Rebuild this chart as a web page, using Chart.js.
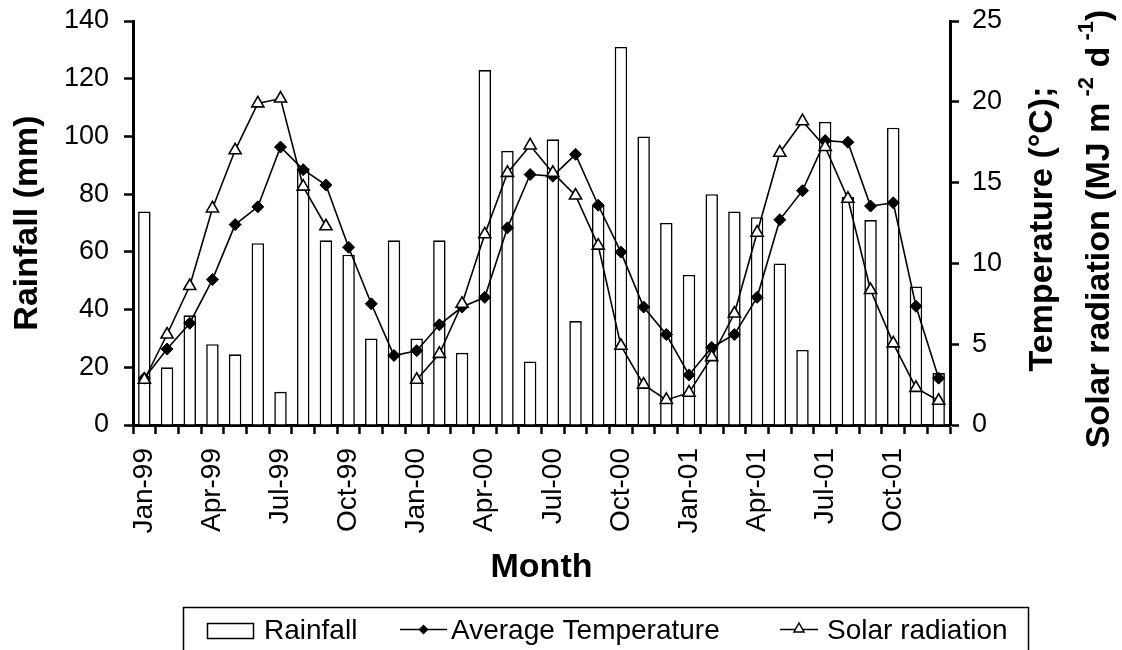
<!DOCTYPE html>
<html>
<head>
<meta charset="utf-8">
<script src="https://cdn.jsdelivr.net/npm/chart.js@4.4.0/dist/chart.umd.min.js"></script>
<style>
  html, body { margin: 0; padding: 0; background: #fff; }
  #wrap { width: 1122px; height: 650px; }
</style>
</head>
<body>
<div id="wrap"><canvas id="climateChart" width="1122" height="650"></canvas></div>
<script>
// monthly data Jan-99 .. Dec-01
const months = [
  'Jan-99', 'Feb-99', 'Mar-99', 'Apr-99', 'May-99', 'Jun-99', 'Jul-99', 'Aug-99', 'Sep-99', 'Oct-99', 'Nov-99', 'Dec-99',
  'Jan-00', 'Feb-00', 'Mar-00', 'Apr-00', 'May-00', 'Jun-00', 'Jul-00', 'Aug-00', 'Sep-00', 'Oct-00', 'Nov-00', 'Dec-00',
  'Jan-01', 'Feb-01', 'Mar-01', 'Apr-01', 'May-01', 'Jun-01', 'Jul-01', 'Aug-01', 'Sep-01', 'Oct-01', 'Nov-01', 'Dec-01'
];
const rainfall = [
  74, 20, 38, 28, 24.5, 63, 11.5, 89, 64, 59, 30, 64,
  30, 64, 25, 123, 95, 22, 99, 36, 76, 131, 100, 70,
  52, 80, 74, 72, 56, 26, 105, 79, 71, 103, 48, 18
];
const avgTemperature = [
  2.9, 4.7, 6.3, 9.0, 12.4, 13.5, 17.2, 15.8, 14.85, 11.0, 7.5, 4.3,
  4.6, 6.2, 7.3, 7.9, 12.2, 15.5, 15.4, 16.75, 13.6, 10.7, 7.3, 5.6,
  3.1, 4.8, 5.6, 7.9, 12.7, 14.5, 17.6, 17.5, 13.55, 13.75, 7.35, 2.9
];
const solarRadiation = [
  2.8, 5.6, 8.6, 13.4, 17.0, 19.9, 20.2, 14.75, 12.3, null, null, null,
  2.8, 4.4, 7.5, 11.8, 15.6, 17.3, 15.6, 14.2, 11.1, 4.9, 2.5, 1.55,
  2.0, 4.2, 6.9, 11.9, 16.85, 18.8, 17.2, 14.0, 8.35, 5.05, 2.3, 1.5
];
const rainTicks = { min: 0, max: 140, step: 20 };
const tempTicks = { min: 0, max: 25, step: 5 };

const FONT = '"Liberation Sans", Arial, sans-serif';

// right axis title, read bottom to top, with superscripts
const rightTitlePlugin = {
  id: 'rightTitle',
  afterDraw(chart) {
    const ctx = chart.ctx;
    const big = 'bold 34px ' + FONT;
    const small = 'bold 22px ' + FONT;
    const lines = [
      { x: 1043, parts: [['Temperature (°C);', false]] },
      { x: 1100, parts: [['Solar radiation (MJ m', false], [' -2', true], [' d', false], [' -1', true], [')', false]] }
    ];
    ctx.save();
    ctx.fillStyle = '#000';
    ctx.textBaseline = 'middle';
    ctx.textAlign = 'left';
    lines.forEach(line => {
      let total = 0;
      line.parts.forEach(p => { ctx.font = p[1] ? small : big; total += ctx.measureText(p[0]).width; });
      ctx.save();
      ctx.translate(line.x, 229);
      ctx.rotate(-Math.PI / 2);
      let cx = -total / 2;
      line.parts.forEach(p => {
        ctx.font = p[1] ? small : big;
        ctx.fillText(p[0], cx, p[1] ? -13 : 0);
        cx += ctx.measureText(p[0]).width;
      });
      ctx.restore();
    });
    ctx.restore();
  }
};

// boxed legend under the axis title
const boxLegendPlugin = {
  id: 'boxLegend',
  afterDraw(chart) {
    const ctx = chart.ctx;
    const ds = chart.data.datasets;
    ctx.save();
    ctx.strokeStyle = '#000';
    ctx.lineWidth = 1.5;
    ctx.strokeRect(183.5, 607.5, 845, 60);

    ctx.font = '28px ' + FONT;
    ctx.fillStyle = '#000';
    ctx.textBaseline = 'alphabetic';
    ctx.textAlign = 'left';

    // Rainfall
    ctx.fillStyle = '#fff';
    ctx.fillRect(207.5, 623.5, 46, 15);
    ctx.strokeRect(207.5, 623.5, 46, 15);
    ctx.fillStyle = '#000';
    ctx.fillText(ds[0].label, 264, 639);

    // Average Temperature
    ctx.lineWidth = 1.5;
    ctx.beginPath(); ctx.moveTo(400, 629.5); ctx.lineTo(447, 629.5); ctx.stroke();
    ctx.beginPath();
    ctx.moveTo(423.5 - 5, 629.5); ctx.lineTo(423.5, 624.5); ctx.lineTo(423.5 + 5, 629.5); ctx.lineTo(423.5, 634.5);
    ctx.closePath(); ctx.fill();
    ctx.fillText(ds[1].label, 451, 639);

    // Solar radiation
    ctx.beginPath(); ctx.moveTo(780, 629.5); ctx.lineTo(818, 629.5); ctx.stroke();
    ctx.beginPath();
    ctx.moveTo(799, 623); ctx.lineTo(804, 632); ctx.lineTo(794, 632); ctx.closePath();
    ctx.fillStyle = '#fff'; ctx.fill(); ctx.stroke();
    ctx.fillStyle = '#000';
    ctx.fillText(ds[2].label, 827, 639);
    ctx.restore();
  }
};

// fixed widths, and no extra label padding above/below the plot
const fitY = w => s => { s.width = w; s.paddingTop = 0; s.paddingBottom = 0; };

const ctx = document.getElementById('climateChart').getContext('2d');
new Chart(ctx, {
  type: 'bar',
  data: {
    labels: months,
    datasets: [
      {
        type: 'bar', label: 'Rainfall', data: rainfall, yAxisID: 'y', order: 3,
        backgroundColor: '#fff', borderColor: '#000', borderWidth: 1.6,
        categoryPercentage: 1, barPercentage: 0.55
      },
      {
        type: 'line', label: 'Average Temperature', data: avgTemperature, yAxisID: 'y1', order: 2,
        borderColor: '#000', borderWidth: 1.6, backgroundColor: '#000',
        pointStyle: 'rectRot', pointRadius: 6, pointBorderWidth: 1, tension: 0
      },
      {
        type: 'line', label: 'Solar radiation', data: solarRadiation, yAxisID: 'y1', order: 1,
        borderColor: '#000', borderWidth: 1.6, backgroundColor: '#fff',
        pointStyle: 'triangle', pointRadius: 7, pointBorderWidth: 1.6, tension: 0, spanGaps: false
      }
    ]
  },
  options: {
    responsive: false,
    animation: false,
    devicePixelRatio: 1,
    layout: { padding: { top: 21, left: 0, right: 0, bottom: 60 } },
    plugins: { legend: { display: false }, tooltip: { enabled: false } },
    scales: {
      x: {
        afterFit: s => { s.height = 165; },
        grid: { offset: true, drawOnChartArea: false, drawTicks: true, tickLength: 9, tickColor: '#000', tickWidth: 2.5 },
        border: { color: '#000', width: 3 },
        ticks: {
          autoSkip: false, minRotation: 90, maxRotation: 90, padding: 14, color: '#000',
          font: { family: FONT, size: 28 },
          callback: (v, i) => (i % 3 === 0 ? months[i] : '')
        },
        title: { display: true, text: 'Month', color: '#000', font: { family: FONT, size: 34, weight: 'bold' }, padding: { top: 0, bottom: 2 } }
      },
      y: {
        position: 'left',
        min: rainTicks.min, max: rainTicks.max,
        afterFit: fitY(133),
        grid: { drawOnChartArea: false, drawTicks: true, tickLength: 9, tickColor: '#000', tickWidth: 2.5 },
        border: { color: '#000', width: 3 },
        ticks: { stepSize: rainTicks.step, padding: 15, color: '#000', font: { family: FONT, size: 27 } },
        title: { display: true, text: 'Rainfall (mm)', color: '#000', font: { family: FONT, size: 34, weight: 'bold' }, padding: { top: 7, bottom: 0 } }
      },
      y1: {
        position: 'right',
        min: tempTicks.min, max: tempTicks.max,
        afterFit: fitY(172),
        grid: { drawOnChartArea: false, drawTicks: true, tickLength: 9, tickColor: '#000', tickWidth: 2.5 },
        border: { color: '#000', width: 3 },
        ticks: { stepSize: tempTicks.step, padding: 13, color: '#000', font: { family: FONT, size: 27 } }
      }
    }
  },
  plugins: [rightTitlePlugin, boxLegendPlugin]
});
</script>
</body>
</html>
